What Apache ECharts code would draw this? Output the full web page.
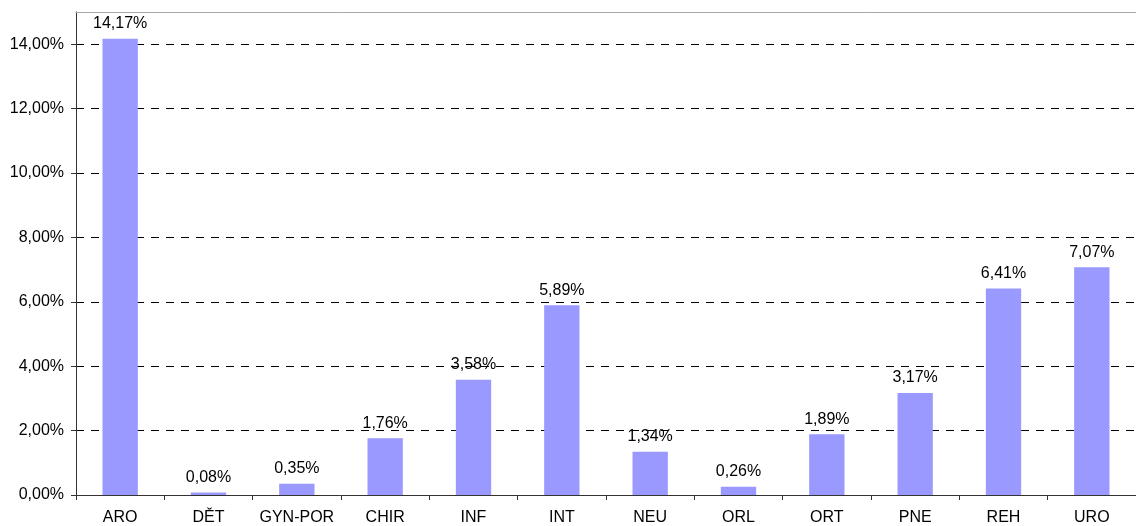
<!DOCTYPE html>
<html>
<head>
<meta charset="utf-8">
<script src="https://cdn.jsdelivr.net/npm/echarts@6/dist/echarts.min.js"></script>
<style>
  html, body { margin: 0; padding: 0; background: #fff; }
  #chart { width: 1136px; height: 526px; }
</style>
</head>
<body>
<div id="chart"></div>
<script>
// departments and their shares (in %)
const categories = ['ARO', 'DĚT', 'GYN-POR', 'CHIR', 'INF', 'INT', 'NEU', 'ORL', 'ORT', 'PNE', 'REH', 'URO'];
const values = [14.17, 0.08, 0.35, 1.76, 3.58, 5.89, 1.34, 0.26, 1.89, 3.17, 6.41, 7.07];
const yTicks = [0, 2, 4, 6, 8, 10, 12, 14];

const fmt = v => v.toFixed(2).replace('.', ',') + '%';
const font = 'Liberation Sans, Arial, sans-serif';

let chart = echarts.init(document.getElementById('chart'));
chart.setOption({
  animation: false,
  grid: { left: 76, right: -9, top: 12, bottom: 30 },
  xAxis: [
    {
      type: 'category',
      data: categories,
      axisLine: { lineStyle: { color: '#333', width: 1 } },
      axisTick: { show: true, length: 5, lineStyle: { color: '#333' } },
      axisLabel: { color: '#000', fontSize: 16, fontFamily: font, margin: 15, interval: 0 },
      splitLine: { show: false }
    },
    {
      // gray top border of the plot
      type: 'category',
      position: 'top',
      data: categories,
      axisLine: { show: true, lineStyle: { color: '#a8a8a8', width: 1 } },
      axisTick: { show: false },
      axisLabel: { show: false }
    }
  ],
  yAxis: {
    type: 'value',
    min: 0,
    max: 15,
    interval: 2,
    axisLine: { show: true, lineStyle: { color: '#333', width: 1 } },
    axisTick: { show: true, length: 5, customValues: yTicks, lineStyle: { color: '#333' } },
    axisLabel: {
      color: '#000', fontSize: 16, fontFamily: font, margin: 12,
      customValues: yTicks,
      formatter: v => fmt(v)
    },
    splitLine: { lineStyle: { color: '#000', width: 1, type: [8, 7] } }
  },
  series: [
    {
      type: 'bar',
      data: values,
      barWidth: '40%',
      itemStyle: { color: '#9999ff' },
      label: {
        show: true,
        position: 'top',
        distance: 7,
        color: '#000',
        fontSize: 16,
        fontFamily: font,
        formatter: p => fmt(p.value)
      }
    }
  ]
});
</script>
</body>
</html>
